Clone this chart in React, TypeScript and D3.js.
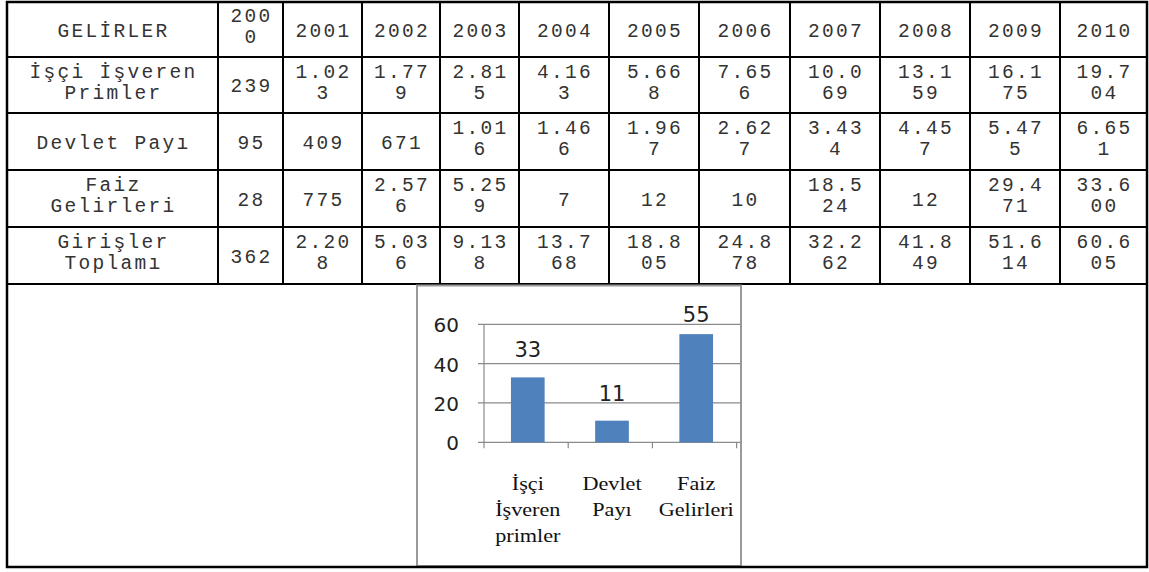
import React, { useEffect, useRef } from "react";
import * as d3 from "d3";

// table data
const headerLabel = "GELİRLER";
const years = ["2000", "2001", "2002", "2003", "2004", "2005", "2006", "2007", "2008", "2009", "2010"];
const rowLabels = ["İşçi İşveren Primler", "Devlet Payı", "Faiz Gelirleri", "Girişler Toplamı"];
const isciIsverenPrimler = ["239", "1.023", "1.779", "2.815", "4.163", "5.668", "7.656", "10.069", "13.159", "16.175", "19.704"];
const devletPayi = ["95", "409", "671", "1.016", "1.466", "1.967", "2.627", "3.434", "4.457", "5.475", "6.651"];
const faizGelirleri = ["28", "775", "2.576", "5.259", "7", "12", "10", "18.524", "12", "29.471", "33.600"];
const girislerToplami = ["362", "2.208", "5.036", "9.138", "13.768", "18.805", "24.878", "32.262", "41.849", "51.614", "60.605"];

// chart data
const chartCategories = ["İşçi İşveren primler", "Devlet Payı", "Faiz Gelirleri"];
const chartValues = [33, 11, 55];
const yTicks = [0, 20, 40, 60];

const W = 1149;
const H = 572;
const colEdges = [7, 218, 283, 362, 440, 519, 609, 699, 790, 880, 970, 1060, 1147];
const rowEdges = [2, 57, 113, 170, 227, 284, 567];
const CHAR_W = 14.3;

function wrap(text: string, cap: number): string[] {
  const lines: string[] = [];
  let cur = "";
  text.split(" ").forEach((word) => {
    const cand = cur ? cur + " " + word : word;
    if (cand.length <= cap) {
      cur = cand;
      return;
    }
    if (cur) lines.push(cur);
    cur = word;
    while (cur.length > cap) {
      lines.push(cur.slice(0, cap));
      cur = cur.slice(cap);
    }
  });
  if (cur) lines.push(cur);
  return lines;
}

export default function App() {
  const ref = useRef<SVGSVGElement>(null);

  useEffect(() => {
    const svg = d3.select(ref.current);
    svg.selectAll("*").remove();
    svg.append("rect").attr("width", W).attr("height", H).attr("fill", "#fff");

    // ---- table ----
    const rows = [
      [headerLabel, ...years],
      [rowLabels[0], ...isciIsverenPrimler],
      [rowLabels[1], ...devletPayi],
      [rowLabels[2], ...faizGelirleri],
      [rowLabels[3], ...girislerToplami],
    ];
    const table = svg.append("g");
    rows.forEach((cells, r) => {
      const top = rowEdges[r];
      const mid = (rowEdges[r] + rowEdges[r + 1]) / 2;
      cells.forEach((cell, c) => {
        const w = colEdges[c + 1] - colEdges[c];
        const cx = (colEdges[c] + colEdges[c + 1]) / 2;
        const lines = wrap(cell, Math.floor((w - 20) / CHAR_W));
        const n = lines.length;
        lines.forEach((line, i) => {
          table
            .append("text")
            .attr("x", cx + 1)
            .attr("y", mid + 7 + (i - (n - 1) / 2) * 21 - (n > 1 ? 4 : 0))
            .attr("text-anchor", "middle")
            .style("font-family", "'Liberation Mono', monospace")
            .style("font-size", "19.5px")
            .style("letter-spacing", "2.3px")
            .style("fill", "#333")
            .text(line);
        });
      });
    });
    // grid lines
    rowEdges.slice(1, -1).forEach((y) => {
      table.append("line").attr("x1", colEdges[0]).attr("x2", colEdges[colEdges.length - 1])
        .attr("y1", y).attr("y2", y).attr("stroke", "#000").attr("stroke-width", 2);
    });
    colEdges.slice(1, -1).forEach((x) => {
      table.append("line").attr("x1", x).attr("x2", x)
        .attr("y1", rowEdges[0]).attr("y2", rowEdges[rowEdges.length - 2])
        .attr("stroke", "#000").attr("stroke-width", 2);
    });

    // ---- embedded chart ----
    const frame = { left: 417, right: 741, top: 285.5, bottom: 566 };
    const chart = svg.append("g");
    chart.append("rect")
      .attr("x", frame.left).attr("y", frame.top)
      .attr("width", frame.right - frame.left).attr("height", frame.bottom - frame.top)
      .attr("fill", "#fff").attr("stroke", "#999").attr("stroke-width", 2);

    const plot = { left: 484, right: 740, top: 324.3, bottom: 442.3 };
    const x = d3.scaleBand<string>().domain(chartCategories)
      .range([plot.left, plot.right]).paddingInner(0.6).paddingOuter(0.32);
    const y = d3.scaleLinear().domain([0, 60]).range([plot.bottom, plot.top]);

    yTicks.forEach((t) => {
      chart.append("line").attr("x1", plot.left - 6).attr("x2", plot.right)
        .attr("y1", y(t)).attr("y2", y(t)).attr("stroke", "#8a8a8a").attr("stroke-width", 1.2);
      chart.append("text")
        .attr("x", 459).attr("y", y(t) + 8)
        .attr("text-anchor", "end")
        .style("font-family", "'DejaVu Sans', sans-serif")
        .style("font-size", "20px")
        .style("fill", "#222")
        .text(t);
    });
    chart.append("line").attr("x1", plot.left).attr("x2", plot.left)
      .attr("y1", plot.top).attr("y2", plot.bottom).attr("stroke", "#8a8a8a").attr("stroke-width", 1.2);
    d3.range(chartCategories.length + 1).forEach((i) => {
      const tx = plot.left + i * x.step();
      chart.append("line").attr("x1", tx).attr("x2", tx)
        .attr("y1", plot.bottom).attr("y2", plot.bottom + 6)
        .attr("stroke", "#8a8a8a").attr("stroke-width", 1.2);
    });

    chart.selectAll("rect.bar")
      .data(chartCategories)
      .join("rect")
      .attr("class", "bar")
      .attr("x", (d) => x(d)!)
      .attr("y", (d, i) => y(chartValues[i]))
      .attr("width", x.bandwidth())
      .attr("height", (d, i) => y(0) - y(chartValues[i]))
      .attr("fill", "#4f81bd");

    chartCategories.forEach((cat, i) => {
      const cx = x(cat)! + x.bandwidth() / 2;
      chart.append("text")
        .attr("x", cx).attr("y", Math.max(y(chartValues[i]) - 20, plot.top - 2))
        .attr("text-anchor", "middle")
        .style("font-family", "'DejaVu Sans', sans-serif")
        .style("font-size", "21px")
        .style("fill", "#222")
        .text(chartValues[i]);
      cat.split(" ").forEach((word, j) => {
        chart.append("text")
          .attr("transform", `translate(${cx},${plot.bottom + 48 + j * 26}) scale(1.2,1)`)
          .attr("text-anchor", "middle")
          .style("font-family", "'Liberation Serif', serif")
          .style("font-size", "18.5px")
          .style("fill", "#111")
          .text(word);
      });
    });

    // outer border
    svg.append("rect")
      .attr("x", colEdges[0]).attr("y", rowEdges[0])
      .attr("width", colEdges[colEdges.length - 1] - colEdges[0])
      .attr("height", rowEdges[rowEdges.length - 1] - rowEdges[0])
      .attr("fill", "none").attr("stroke", "#000").attr("stroke-width", 2.5);
  }, []);

  return (
    <svg
      ref={ref}
      width={W}
      height={H}
      style={{ position: "absolute", left: 0, top: 0 }}
    />
  );
}
